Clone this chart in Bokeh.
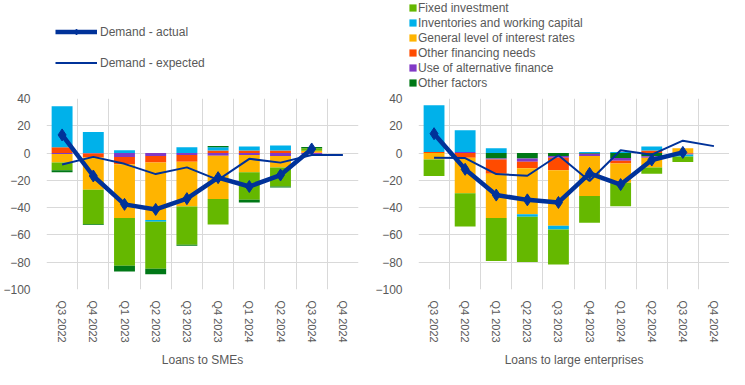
import numpy as np
from bokeh.plotting import figure
from bokeh.layouts import row, column
from bokeh.models import FixedTicker, Legend, LegendItem, Range1d
from bokeh.embed import file_html
from bokeh.resources import INLINE

# ---------------- data ----------------
quarters = ["Q3 2022", "Q4 2022", "Q1 2023", "Q2 2023", "Q3 2023",
            "Q4 2023", "Q1 2024", "Q2 2024", "Q3 2024", "Q4 2024"]

# Loans to SMEs (percentage points)
sme_fixed    = [-5.6, -25.2, -35.0, -34.3, -28.0, -18.7, -20.3, -14.0, 1.9, 0.0]
sme_invent   = [30.1, 15.4, 2.1, -1.4, 4.2, 2.3, 3.0, 3.7, 0.0, 0.0]
sme_rates    = [-6.3, -23.6, -39.4, -42.0, -32.9, -31.7, -12.6, -8.4, 1.2, 0.0]
sme_otherfin = [4.2, -3.0, -5.4, -4.9, -4.9, 1.9, 1.9, 1.9, 0.5, 0.0]
sme_altfin   = [-0.7, -0.3, -2.8, -2.1, -1.4, -1.9, -1.4, -2.1, -0.9, 0.0]
sme_other    = [-1.4, -0.7, -4.2, -4.2, -0.7, 0.9, -1.9, -0.7, 0.9, 0.0]
sme_actual   = [13.3, -16.8, -37.6, -41.3, -33.4, -18.0, -24.5, -16.1, 3.0, np.nan]
sme_expected = [-8.4, -2.8, -7.9, -15.4, -10.5, -19.6, -4.2, -7.0, -1.4, -1.4]

# Loans to large enterprises
lar_fixed    = [-12.1, -24.5, -31.5, -33.1, -25.7, -19.6, -17.3, -4.7, -4.0, 0.0]
lar_invent   = [34.3, 16.1, 3.5, -1.9, -2.8, 0.7, 0.7, 3.0, -1.4, 0.0]
lar_rates    = [-4.7, -25.9, -32.4, -33.6, -40.6, -29.4, -14.0, -7.0, 3.5, 0.0]
lar_otherfin = [0.7, -3.5, -10.5, -4.9, -9.1, 0.0, -2.1, 1.9, -0.7, 0.0]
lar_altfin   = [0.0, 0.7, -0.7, -2.3, -1.4, -1.6, -1.9, -1.2, -0.4, 0.0]
lar_other    = [0.0, 0.0, -4.0, -4.0, -2.1, -0.5, -3.7, -2.3, 0.0, 0.0]
lar_actual   = [14.2, -11.9, -30.8, -34.3, -36.2, -14.9, -23.1, -5.1, 0.5, np.nan]
lar_expected = [-3.5, -3.7, -15.4, -16.6, -1.6, -20.5, 2.1, -1.2, 9.1, 5.1]

factor_labels = ["Fixed investment", "Inventories and working capital",
                 "General level of interest rates", "Other financing needs",
                 "Use of alternative finance", "Other factors"]
line_labels = ["Demand - actual", "Demand - expected"]
y_ticks = [-100, -80, -60, -40, -20, 0, 20, 40]

# ---------------- style ----------------
COLORS = {
    "Fixed investment": "#65b800",
    "Inventories and working capital": "#00b1ea",
    "General level of interest rates": "#ffb400",
    "Other financing needs": "#ff4b00",
    "Use of alternative finance": "#8139c6",
    "Other factors": "#007816",
}
BLUE = "#003299"
GRAY = "#595959"
GRID = "#d9d9d9"
FONT = "Liberation Sans"
BAR_W = 0.67
CHART_H = 279


def stacks(series, order):
    n = len(quarters)
    pos = np.zeros(n)
    neg = np.zeros(n)
    out = {}
    for name in order:
        v = np.array(series[name], dtype=float)
        bottom = np.where(v >= 0, pos, neg)
        top = bottom + v
        pos = np.where(v >= 0, top, pos)
        neg = np.where(v < 0, top, neg)
        out[name] = (bottom, top)
    return out


def make_chart(title, series, order, actual, expected, width, bl, br):
    n = len(quarters)
    x = np.arange(n) + 0.5
    p = figure(width=width, height=CHART_H, x_range=Range1d(0, n), y_range=Range1d(-100, 40),
               output_backend="svg", toolbar_location=None,
               min_border_left=bl, min_border_right=br,
               min_border_top=8, min_border_bottom=76)
    p.outline_line_color = None
    p.background_fill_color = "white"
    p.border_fill_color = "white"

    for name, (bottom, top) in stacks(series, order).items():
        p.vbar(x=x, bottom=bottom, top=top, width=BAR_W,
               fill_color=COLORS[name], line_color=None)

    p.line(x, np.array(expected, dtype=float), line_width=2, color=BLUE)
    p.line(x, np.array(actual, dtype=float), line_width=4.5, color=BLUE)
    p.scatter(x, np.array(actual, dtype=float), marker="diamond", size=12, color=BLUE)

    p.xaxis.ticker = FixedTicker(ticks=list(x))
    p.xaxis.major_label_overrides = {float(xi): q for xi, q in zip(x, quarters)}
    p.xaxis.major_label_orientation = "vertical"
    p.xaxis.major_label_standoff = 5
    p.xaxis.axis_label = title
    p.xaxis.axis_label_standoff = 7
    p.xaxis.axis_label_text_font_style = "normal"
    p.xaxis.axis_label_text_font_size = "12px"
    p.yaxis.ticker = FixedTicker(ticks=y_ticks)
    p.yaxis.major_label_standoff = 10
    for ax in (p.xaxis[0], p.yaxis[0]):
        ax.axis_line_color = None
        ax.major_tick_line_color = None
        ax.minor_tick_line_color = None
        ax.major_label_text_color = GRAY
        ax.major_label_text_font = FONT
        ax.axis_label_text_color = GRAY
        ax.axis_label_text_font = FONT
    p.xaxis.major_label_text_font_size = "11px"
    p.yaxis.major_label_text_font_size = "12px"

    p.xgrid.ticker = FixedTicker(ticks=list(range(0, n + 1)))
    p.ygrid.ticker = FixedTicker(ticks=y_ticks)
    p.grid.grid_line_color = GRID
    p.grid.grid_line_width = 1
    return p


sme_series = dict(zip(factor_labels, [sme_fixed, sme_invent, sme_rates,
                                      sme_otherfin, sme_altfin, sme_other]))
lar_series = dict(zip(factor_labels, [lar_fixed, lar_invent, lar_rates,
                                      lar_otherfin, lar_altfin, lar_other]))

sme_order = ["Use of alternative finance", "Other financing needs",
             "General level of interest rates", "Inventories and working capital",
             "Fixed investment", "Other factors"]
lar_order = ["Other factors", "Use of alternative finance", "Other financing needs",
             "General level of interest rates", "Inventories and working capital",
             "Fixed investment"]

p1 = make_chart("Loans to SMEs", sme_series, sme_order,
                sme_actual, sme_expected, 372, 38, 14)
p2 = make_chart("Loans to large enterprises", lar_series, lar_order,
                lar_actual, lar_expected, 357, 37, 0)

# ---------------- legend strip (its own figure so the legends are not clipped) ----
# The key glyphs reuse the chart data, placed outside this strip's visible ranges.
LEG_H = 90
lf = figure(width=729, height=LEG_H, x_range=Range1d(1000, 1729), y_range=Range1d(1000, 1090),
            x_axis_type=None, y_axis_type=None, output_backend="svg",
            toolbar_location=None, min_border=0)
lf.outline_line_color = None
lf.background_fill_color = "white"
lf.border_fill_color = "white"

xq = np.arange(len(quarters)) + 0.5
k_act_l = lf.line(xq, np.array(lar_actual, dtype=float), line_width=4.5, color=BLUE)
k_act_m = lf.scatter(xq, np.array(lar_actual, dtype=float), marker="diamond", size=7, color=BLUE)
k_exp = lf.line(xq, np.array(lar_expected, dtype=float), line_width=2, color=BLUE)
k_bars = {}
for name, (bottom, top) in stacks(lar_series, lar_order).items():
    k_bars[name] = lf.vbar(x=xq, bottom=bottom, top=top, width=BAR_W,
                           fill_color=COLORS[name], line_color=None)

leg1 = Legend(items=[LegendItem(label=line_labels[0], renderers=[k_act_l, k_act_m]),
                     LegendItem(label=line_labels[1], renderers=[k_exp])],
              location=(55, 20), orientation="vertical",
              glyph_width=42, glyph_height=15, label_height=15, spacing=16,
              label_standoff=3, padding=0, margin=0,
              label_text_font=FONT, label_text_font_size="12px",
              label_text_color=GRAY, border_line_color=None,
              background_fill_alpha=0)
lf.add_layout(leg1, "center")

leg2 = Legend(items=[LegendItem(label=name, renderers=[k_bars[name]]) for name in factor_labels],
              location=(408, 0), orientation="vertical",
              glyph_width=9, glyph_height=9, label_height=15, spacing=0,
              label_standoff=1, padding=0, margin=0,
              label_text_font=FONT, label_text_font_size="12px",
              label_text_color=GRAY, border_line_color=None,
              background_fill_alpha=0)
lf.add_layout(leg2, "center")

layout = column(lf, row(p1, p2))
open("out.html", "w").write(file_html(layout, INLINE))
